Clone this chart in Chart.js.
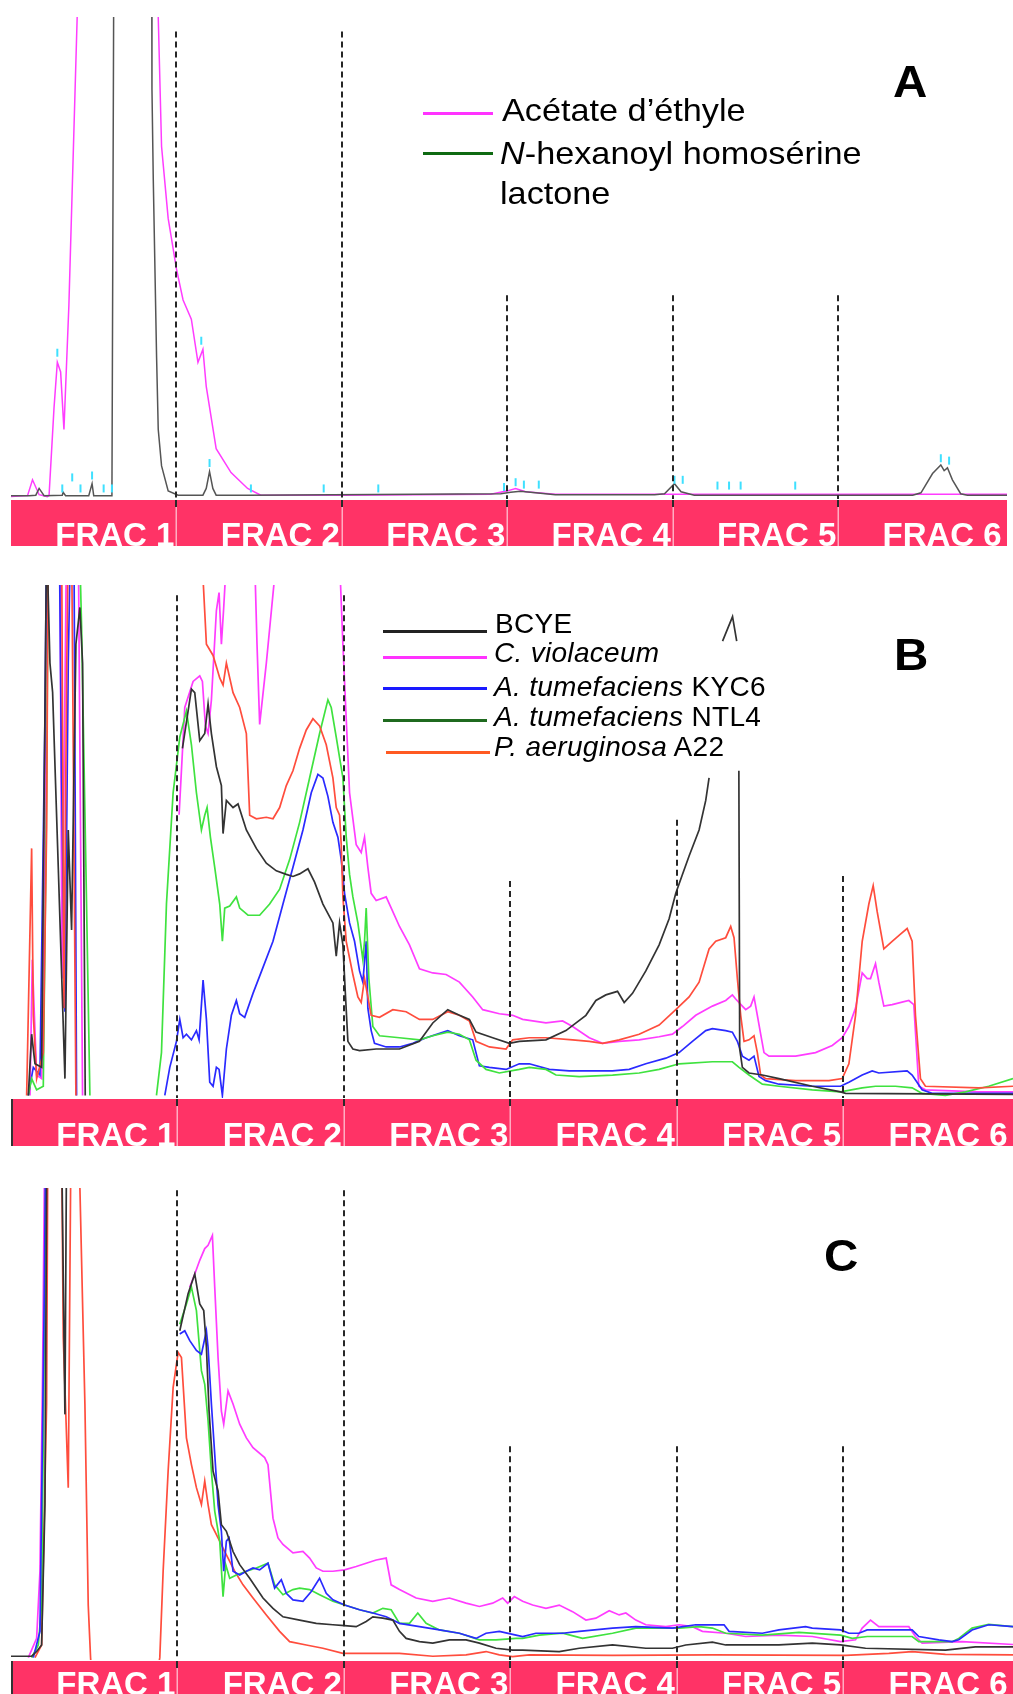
<!DOCTYPE html>
<html>
<head>
<meta charset="utf-8">
<script src="https://cdn.jsdelivr.net/npm/chart.js@4.4.1/dist/chart.umd.min.js"></script>
<style>
  html, body { margin: 0; padding: 0; background: #fff; }
  #wrap { position: relative; width: 1013px; height: 1694px; overflow: hidden; background: #fff; }
  canvas { position: absolute; left: 0; }
  .txt { position: absolute; white-space: nowrap; line-height: 1; color: #000;
         font-family: "Liberation Sans", Arial, Helvetica, sans-serif; transform-origin: left top; }
  .lgA { font-size: 32px; transform: scaleX(1.07); }
  .lgB { font-size: 28px; letter-spacing: 0.3px; }
  .letter { font-size: 44px; font-weight: bold; transform: scaleX(1.08); }
  .sw { position: absolute; height: 3px; }
</style>
</head>
<body>
<div id="wrap">
  <canvas id="chartA" width="1013" height="560" style="top:0px"></canvas>
  <canvas id="chartB" width="1013" height="595" style="top:565px"></canvas>
  <canvas id="chartC" width="1013" height="529" style="top:1165px"></canvas>

  <!-- panel A legend -->
  <div class="sw" style="left:423px;top:112px;width:70px;background:#ff33ff"></div>
  <div class="sw" style="left:423px;top:152px;width:70px;background:#0f6a12"></div>
  <div class="txt lgA" style="left:502px;top:94px">Acétate d’éthyle</div>
  <div class="txt lgA" style="left:500px;top:137px"><i>N</i>-hexanoyl homosérine</div>
  <div class="txt lgA" style="left:500px;top:177px">lactone</div>
  <div class="txt letter" style="left:893px;top:60px">A</div>

  <!-- panel B legend -->
  <div class="sw" style="left:383px;top:630px;width:104px;background:#222"></div>
  <div class="sw" style="left:383px;top:656px;width:104px;background:#ff33ff"></div>
  <div class="sw" style="left:383px;top:687px;width:104px;background:#1a1aff"></div>
  <div class="sw" style="left:383px;top:719px;width:104px;background:#1f6a1f"></div>
  <div class="sw" style="left:386px;top:751px;width:104px;background:#ff5a22"></div>
  <div class="txt lgB" style="left:495px;top:610px">BCYE</div>
  <div class="txt lgB" style="left:494px;top:639px"><i>C. violaceum</i></div>
  <div class="txt lgB" style="left:494px;top:673px"><i>A. tumefaciens</i> KYC6</div>
  <div class="txt lgB" style="left:494px;top:703px"><i>A. tumefaciens</i> NTL4</div>
  <div class="txt lgB" style="left:494px;top:733px"><i>P. aeruginosa</i> A22</div>
  <div class="txt letter" style="left:894px;top:633px">B</div>

  <div class="txt letter" style="left:824px;top:1234px">C</div>
</div>

<script>
// fractions along the elution axis (each fraction = 100 units)
const fractionEdges = [0, 100, 200, 300, 400, 500, 600];
const fractionLabels = ['FRAC 1', 'FRAC 2', 'FRAC 3', 'FRAC 4', 'FRAC 5', 'FRAC 6'];

// height (in % of panel) where each fraction separator starts
const dashTopsA = [97, 97, 42, 42, 42];
const dashTopsB = [98, 98, 42, 54, 43];
const dashTopsC = [99.5, 99.5, 45, 45, 45];

// ---------- Panel A ----------
const aAcetate = [[0,0],[10,0.2],[13,3.5],[17,0.4],[22,0],[23,0.2],[26,18.5],[28,28],[30,26],[32,14],[35,40],[40,100],[44,160],
  [86,160],[89,100],[91,73],[95,58],[100,47.5],[104,41],[109,37],[113,28],[116,30.7],[118,23],[124,10],[133,5],[143,1.7],
  [151,0.3],[200,0.3],[290,0.5],[300,1.2],[305,1.7],[311,1],[329,0.5],[400,0.5],[602,0.5]];
const aHexanoyl = [[0,0.2],[11,0.2],[15,0.3],[17,1.7],[20,0.2],[31,0.3],[31.5,0.9],[33,0.2],[47,0.2],[49,2.7],[50,0.2],[61,0.2],
  [62,97],[62.5,160],[84.8,160],[85.2,85],[86,66],[88,29],[89,14],[91,6.4],[95,1.2],[101,0.3],[116,0.3],[118,1.7],[120,5.2],
  [122,1.7],[124,0.3],[143,0.3],[296,0.6],[302,0.9],[308,1.1],[317,0.8],[329,0.4],[389,0.4],[395,0.6],[401,2.7],[405,1],
  [413,0.3],[545,0.3],[550,0.8],[557,4.8],[562,6.6],[564,5.4],[566,6],[569,3.5],[574,0.6],[578,0.3],[602,0.3]];
const aMarkers = [[28,30],[31,1.7],[37,4],[42,1.7],[49,4.4],[56,1.7],[61,1.7],[115,32.5],[120,7],[145,1.7],[189,1.7],[222,1.7],
  [298,2],[305,3],[310,2.5],[319,2.5],[401,3.5],[406,3.5],[427,2.3],[434,2.3],[441,2.3],[474,2.3],[562,8],[567,7.5]];

// ---------- Panel B ----------
const bBCYE = [[10.4,0],[12.4,12],[14.4,6.2],[18.4,5.5],[21.4,110],[23.4,84.7],[25,79],[28.4,44.7],[32.4,3.3],[34.4,52],[36.4,32.4],
  [39,88.4],[41.4,95.6],[43,84.7],[44.6,0],[46,null],
  [103,68],[108.4,79.6],[110.4,78.9],[113.4,69.5],[116.4,70.9],[118.4,76.7],[120.4,70.9],[123.4,64.4],[126.4,60.7],[127.4,51.3],
  [129.4,57.8],[133.4,56.4],[136.4,57.1],[141.4,52],[147.4,48.4],[153.4,45.5],[159.4,44],[165.4,43.3],[169.4,42.9],[173.4,43.4],
  [178.4,44.4],[182.4,41.8],[187.4,37.5],[193.4,33.8],[195.4,27.3],[197.4,33.8],[199.4,29.5],[201,19.3],[202.4,10.6],[205.4,9.1],
  [209.4,8.8],[219.4,9.1],[233.4,9.1],[245.4,10.6],[253.4,14.2],[262.4,16.8],[269.4,15.7],[275.4,14.9],[279.4,12.4],[289.4,11.3],
  [299.4,10.2],[305.4,10.6],[321.4,10.9],[333.4,12.7],[345.4,15.7],[351.4,18.6],[357.4,19.7],[364.4,20.4],[368.4,18.2],[373.4,20],
  [381.4,24.4],[389.4,29.5],[395.4,34.6],[399.4,39.6],[403.4,43.3],[407.4,46.9],[413.4,52],[417.4,57.8],[419.4,62.2],[420,null],
  [427.5,89],[433.5,93.8],[436,89],[436.5,null],
  [437.3,63.6],[437.8,9.1],[439.4,5.5],[443.4,4.4],[451.4,4],[461.4,3.3],[481.4,1.8],[498.4,0.7],[501.4,0.4],[602,0.2]];
const bViolaceum = [[11.4,0],[12.8,26.6],[15.4,4],[18.4,3.3],[20.4,52],[21.8,110],[29.4,110],[30.6,22.9],[33.4,110],[40.4,110],[43,0],[44,null],
  [101,55],[104.4,76],[109.4,81.1],[113.4,82.2],[115,81.1],[116.8,72.4],[118.4,70.9],[120.4,77.5],[123.4,95],[125,98.5],[126.4,88.4],
  [127.8,95.6],[129.4,105],[146.4,105],[147.8,88.4],[149.4,72.7],[153.4,84.7],[159.4,105],[197.4,105],[199.4,88.4],[201.4,73.8],
  [203.4,59.3],[207.4,49.1],[210.4,47.6],[212.4,50.6],[214.4,44.7],[216.4,39.6],[219.4,38.2],[225.4,38.9],[229.4,36],[233.4,33.1],
  [239.4,29.5],[245.4,24.8],[253.4,24],[261.4,23.7],[269.4,22.2],[277.4,19.3],[283.4,16.8],[293.4,16],[301.4,15.7],[307.4,14.9],
  [313.4,14.6],[321.4,14.2],[331.4,14.6],[337.4,13.5],[347.4,11.3],[355.4,10.2],[365.4,10.6],[377.4,10.9],[389.4,11.5],[397.4,12],
  [403.4,13.5],[411.4,15.7],[421.4,17.5],[429.4,18.6],[433.4,19.7],[435.4,18.9],[439.4,17.5],[441.4,16.8],[444.4,17.5],[446.4,19.3],
  [448.4,15.7],[450.4,12],[452.4,8.4],[455.4,7.7],[471.4,7.7],[483.4,8.4],[493.4,9.8],[499.4,11.3],[503.4,13.5],[507.4,17.1],
  [511.4,24],[514.4,22.9],[516.4,22.9],[519.4,25.8],[521.4,22.2],[524.4,17.5],[529.4,17.8],[539.4,18.6],[542.4,17.8],[545.4,1.8],
  [549.4,1.1],[581.4,0.7],[602,0.7]];
const bKYC6 = [[10.4,0],[13.4,5.5],[17.4,4],[20.4,73.8],[21.4,110],[29,110],[30.4,62.2],[32.4,16.4],[34.4,84.7],[35.8,110],[37.8,110],
  [39.4,0],[40,null],
  [92.4,0],[95.4,5.5],[99.4,10.6],[101.4,14.9],[103.4,11.3],[105.4,12],[108.4,10.9],[111.4,12.7],[113,10.9],[115.4,22.6],[117.4,14.9],
  [119.4,2.6],[121.4,1.8],[123.4,5.5],[125,5.1],[127,0],[129.4,9.1],[132.4,15.7],[135.4,18.6],[137.4,16],[140.4,15.3],[145.4,20],
  [151.4,25.1],[157.4,30.2],[163.4,37.5],[169.4,44.7],[175.4,52],[180.4,59.3],[184.4,62.9],[187.4,62.2],[190.4,58.6],[193.4,53.5],
  [196.4,50.6],[198.4,46.2],[200.4,39.6],[203.4,33.8],[206.4,30.2],[209.4,24.4],[211.4,22.2],[213.4,30.2],[214.4,17.1],[216.4,12.7],
  [218.4,10.2],[225.4,9.5],[233.4,9.5],[241.4,10.2],[249.4,11.3],[262.4,12.7],[269.4,11.7],[277.4,10.9],[281.4,5.8],[287.4,5.5],
  [297.4,5.1],[305.4,6.2],[311.4,6.2],[323.4,5.1],[335.4,4.8],[361.4,4.8],[371.4,5.1],[381.4,6.2],[393.4,7.3],[401.4,8.4],
  [409.4,10.6],[417.4,12.7],[421.4,13.1],[429.4,12.7],[433.4,12.4],[436.4,10.6],[439.4,7.7],[443.4,6.9],[446.4,7.7],[449.4,3.7],
  [453.4,2.9],[461.4,2.2],[481.4,1.8],[498.4,1.8],[503.4,2.6],[511.4,4],[517.4,4.8],[521.4,4.4],[538.4,4.8],[541.4,4],[547.4,1.1],
  [553.4,0.4],[602,0.4]];
const bNTL4 = [[10.4,0],[12.4,3.3],[15.4,1.1],[19.4,1.8],[21.4,59.3],[22.4,110],[41,110],[42.4,92],[45,44.7],[47.4,0],[48,null],
  [87.4,0],[90.4,8.4],[93.4,37.5],[97.4,59.3],[101.4,70.2],[105.4,75.3],[108.4,68.7],[111.4,59.3],[114.4,52],[116.4,54.9],[117.8,56.4],
  [119.8,50.6],[122.4,44.7],[125.4,37.5],[127,30.2],[128.4,36.7],[131.4,37.1],[135.4,38.9],[137.4,36.7],[142.4,35.3],[149.4,35.3],
  [155.4,37.5],[161.4,40.4],[167.4,46.2],[173.4,53.5],[179.4,62.2],[185.4,70.9],[190.4,77.5],[192.4,76],[195.4,70.2],[199.4,62.2],
  [201.4,50.6],[203.4,43.3],[205.4,38.9],[208.4,33.8],[211.4,26.6],[212.4,30.2],[213.4,36.7],[215,22.9],[217.4,13.5],[221.4,11.7],
  [233.4,11.3],[245.4,10.9],[253.4,11.7],[262.4,12.4],[269.4,12],[275.4,10.9],[279.4,6.9],[285.4,5.1],[293.4,4.4],[305.4,5.1],
  [311.4,5.5],[321.4,5.1],[327.4,4],[341.4,3.7],[361.4,4],[377.4,4.4],[389.4,5.1],[401.4,6.2],[421.4,6.6],[433.4,6.6],[437.4,5.5],
  [443.4,4],[451.4,2.2],[461.4,1.8],[481.4,1.1],[498.4,0.7],[511.4,1.5],[519.4,1.8],[531.4,1.8],[541.4,1.5],[547.4,0.4],[561.4,0],
  [573.4,0.7],[587.4,1.8],[602,3.3]];
const bA22 = [[9.4,0],[12.4,48.4],[13.4,15.7],[15.4,3.3],[19.4,8.4],[21.4,52],[22.4,110],[30.4,110],[31.8,17.1],[33.4,81],[34.4,110],
  [36.4,110],[39,0],[40,null],
  [114,110],[117.4,88.4],[121.4,86.2],[125.4,81.8],[127.4,80.4],[129.4,84.7],[133.4,78.9],[137.4,76],[141.4,70.9],[143.4,54.9],
  [147.4,54.2],[153.4,54.5],[157.4,54.2],[161.4,56.4],[165.4,60.7],[169.4,63.6],[173.4,68],[177.4,71.6],[181.4,73.8],[185.4,72.4],
  [189.4,68.7],[193.4,62.2],[195.4,56.4],[197.4,54.9],[198.4,49.1],[199.4,38.9],[201.4,30.2],[205.4,23.7],[208.4,19.3],[210.4,18.2],
  [212.4,22.9],[214.4,19.3],[216.4,15.7],[221.4,15.3],[229.4,16.8],[237.4,16.4],[245.4,14.9],[253.4,14.9],[262.4,16.4],[269.4,15.7],
  [275.4,14.6],[279.4,10.6],[287.4,9.5],[297.4,9.1],[301.4,10.9],[311.4,11.3],[321.4,11.3],[337.4,10.9],[347.4,10.6],[355.4,10.2],
  [365.4,10.9],[377.4,12],[389.4,13.8],[399.4,16.8],[407.4,19.3],[413.4,22.2],[419.4,28.7],[423.4,30.2],[429.4,30.9],[432.4,33.1],
  [434.4,30.9],[436.4,22.9],[438.4,15.7],[440.4,10.6],[443.4,10.9],[446.4,11.7],[448.4,8.4],[450.4,4],[453.4,3.3],[471.4,2.9],
  [491.4,2.9],[499.4,3.3],[503.4,6.2],[507.4,15.7],[511.4,30.2],[515.4,37.5],[518,41.1],[520.4,36],[524.4,28.7],[529.4,30.2],
  [534.4,31.6],[538.4,32.7],[541.4,30.2],[543.4,15.7],[546.4,3.3],[549.4,1.8],[581.4,1.5],[602,1.8]];

// ---------- Panel C ----------
const cBCYE = [[0,0.3],[12.4,0.3],[15.4,1.3],[18.4,2.7],[20.4,32.6],[21.4,100],[22,110],[30.4,110],[32.4,51.8],[33.4,110],[34,null],
  [101.4,69.6],[106.4,77.5],[110.4,81.7],[113.4,75.3],[115.8,73.9],[117.4,66.1],[119,52.5],[121.4,39.7],[124.4,35.5],[126.4,28.3],
  [129.4,26.9],[131.4,24.8],[133.4,22.6],[137.4,19.8],[143.4,16.9],[151.4,12.7],[157.4,10.5],[163.4,8.7],[173.4,8],[183.4,7.3],
  [193.4,7],[200.4,6.8],[207.4,6.6],[213.4,7.7],[217.4,8.7],[223.4,8.4],[229.4,8],[233.4,5.6],[237.4,4.1],[245.4,3.4],[253.4,3.1],
  [263.4,3.8],[273.4,3.8],[281.4,3.1],[291.4,2],[301.4,1.6],[307.4,1.6],[329.4,1.3],[341.4,2],[361.4,2.7],[381.4,2],[397.4,2],
  [405.4,2.7],[421.4,3.3],[429.4,2.7],[461.4,2.7],[481.4,3.1],[498.4,2.7],[513.4,2],[561.4,1.6],[579.4,2.3],[602,2.3]];
const cViolaceum = [[10.4,0],[15.4,4.1],[17.4,18.4],[19,61.1],[20,100],[20.4,110],[33.4,110],[34,null],
  [107.4,78.9],[110.4,81.7],[113.4,84.6],[116.4,87.1],[118.4,87.8],[121,89.9],[122.4,78.9],[124.4,63.9],[126.4,52.5],[127.8,49.7],
  [130.4,56.8],[133.4,54],[137.4,49.7],[141.4,46.8],[145.4,44.7],[152.4,42.6],[154.4,41.1],[157.4,29.7],[160.4,25.5],[163.4,24.1],
  [169.4,22.3],[175.4,22.6],[179.4,21.2],[183.4,19.1],[187.4,18.4],[193.4,18.4],[200.4,18.7],[207.4,19.4],[213.4,20.1],[219.4,20.8],
  [225.4,21.2],[228.4,15.5],[233.4,14.5],[243.4,12.7],[253.4,12],[263.4,12.7],[273.4,11.6],[281.4,10.9],[289.4,11.6],[295.4,12.7],
  [298.4,11.6],[302.4,13],[307.4,12],[313.4,11.2],[321.4,10.5],[329.4,11.2],[337.4,9.8],[345.4,8],[351.4,8.4],[359.4,10],
  [365.4,9.1],[369.4,9.5],[375.4,8],[381.4,7],[393.4,6.6],[401.4,7],[409.4,6.6],[415.4,5.6],[429.4,5.2],[441.4,4.5],[461.4,4.8],
  [481.4,4.5],[498.4,3.4],[507.4,3.8],[511.4,6.3],[516.4,8],[521.4,6.6],[539.4,6.6],[543.4,4.5],[547.4,3.1],[571.4,3.4],[602,2.8]];
const cKYC6 = [[13.4,0],[17.4,5.6],[20,77.5],[20.6,100],[21.4,110],[30,110],[30.5,null],
  [101.4,68.9],[104.4,69.6],[107.4,67.5],[111.4,65.4],[114.4,64.6],[117.4,69.6],[118.4,66.1],[120.4,54],[122.4,43.3],[124.4,32.6],
  [126.4,26.9],[127.8,18.4],[129.4,24.8],[131,25.5],[133.4,18.4],[137.4,17.6],[141.4,18.4],[145.4,19.1],[149.4,18.7],[154.4,20.1],
  [158.4,14.8],[162.4,16.6],[165.4,13.7],[169.4,12.3],[175.4,12],[180.4,14.1],[185.4,16.9],[189.4,13.7],[193.4,12.3],[200.4,11.2],
  [209.4,10.2],[217.4,9.5],[225.4,8.7],[233.4,7.3],[245.4,6.6],[257.4,5.9],[269.4,5.2],[279.4,4.1],[285.4,5.2],[293.4,5.6],
  [303.4,4.8],[307.4,4.5],[315.4,5.2],[331.4,5.2],[341.4,5.6],[361.4,6.3],[375.4,6.6],[397.4,6.3],[411.4,7],[428.4,7],[431.4,5.6],
  [451.4,5.2],[461.4,5.9],[477.4,6.6],[481.4,6.3],[498.4,5.9],[503.4,5.2],[509.4,5.2],[514.4,5.9],[541.4,5.9],[545.4,4.5],
  [557.4,3.8],[565.4,3.4],[569.4,3.8],[577.4,5.9],[587.4,7],[602,6.6]];
const cNTL4 = [[12.4,0],[16.4,2.7],[18.4,11.2],[20,68.2],[20.8,100],[21.4,110],[30,110],[30.5,null],
  [101.4,71],[105.4,75.3],[108.4,78.9],[111.4,73.9],[114.4,61.1],[116.4,58.2],[118.4,50.4],[120.4,39.7],[122.4,31.2],[125.4,24.8],
  [127.4,13],[129,19.8],[131.4,16.9],[135.4,17.6],[141.4,18.4],[147.4,19.1],[154.4,20.1],[158.4,15.5],[163.4,13.4],[169.4,14.5],
  [173.4,14.8],[179.4,14.5],[185.4,13.4],[193.4,12],[200.4,11.2],[209.4,10.2],[217.4,9.5],[223.4,10.5],[228.4,10.2],[233.4,7.3],
  [239.4,7.3],[244.4,9.5],[249.4,7.3],[257.4,5.9],[269.4,5.2],[281.4,3.8],[291.4,3.8],[303.4,4.1],[307.4,4.1],[317.4,4.8],
  [331.4,5.2],[343.4,4.1],[361.4,5.2],[375.4,6.3],[401.4,6.3],[413.4,6.6],[421.4,6.3],[429.4,5.2],[451.4,4.8],[473.4,5.4],
  [498.4,4.8],[505.4,4.1],[514.4,4.5],[541.4,4.5],[545.4,3.4],[565.4,3.4],[569.4,4.1],[577.4,6.3],[587.4,7.1],[602,6.6]];
const cA22 = [[14.4,0],[18.4,2.7],[21.4,54],[22,100],[22.4,110],[30.4,110],[31.4,68.2],[34.4,36.2],[35.8,100],[36.2,110],[40.4,110],
  [41.4,100],[44.4,54],[46.4,11.2],[47.8,0],[48.4,-3],[49,null],
  [88,-3],[89.4,0],[91.4,18.4],[94.4,39.7],[97.4,57.5],[100.4,65],[102.4,63.9],[105.4,46.8],[108.4,41.1],[111.4,36.2],[114.4,32.6],
  [116.4,37.6],[118.4,32.6],[120.4,28.3],[124.4,25.5],[128.4,22.6],[131.4,20.5],[134.4,18.4],[139.4,15.5],[145.4,12.7],[153.4,9.1],
  [161.4,5.6],[167.4,3.4],[177.4,2.7],[187.4,2],[199.4,0.9],[213.4,0.9],[233.4,0.9],[253.4,0.3],[273.4,0.6],[285.4,1.3],[293.4,0.6],
  [301.4,0.2],[311.4,0.6],[361.4,0.5],[421.4,0.6],[501.4,0.5],[527.4,0.9],[541.4,1.3],[561.4,0.7],[602,0.6]];

const MAGENTA = '#ff3cff', BLUE = '#2a2aff', GREEN = '#3fe23f', RED = '#ff4d3d', BLACK = '#333333';

// dashed fraction separators over the traces
const dashPlugin = {
  id: 'fracDash',
  afterDatasetsDraw(chart, args, opts) {
    const { ctx, chartArea, scales: { x, y } } = chart;
    ctx.save();
    ctx.strokeStyle = '#262626';
    ctx.lineWidth = 2;
    ctx.setLineDash([6, 4]);
    fractionEdges.slice(1, 6).forEach((v, i) => {
      const px = Math.round(x.getPixelForValue(v));
      ctx.beginPath();
      ctx.moveTo(px, y.getPixelForValue(opts.tops[i]));
      ctx.lineTo(px, chartArea.bottom);
      ctx.stroke();
    });
    ctx.restore();
  }
};

// pink fraction strip under the plot, with its labels
const bandPlugin = {
  id: 'fracBand',
  afterDraw(chart, args, opts) {
    const { ctx, chartArea, scales: { x } } = chart;
    const top = chartArea.bottom + 1;
    const bottom = top + opts.height;
    const left = x.getPixelForValue(fractionEdges[0]);
    const right = chartArea.right;
    ctx.save();
    ctx.beginPath();
    ctx.rect(left, top, right - left, bottom - top);
    ctx.clip();
    ctx.fillStyle = '#ff3366';
    ctx.fillRect(left, top, right - left, bottom - top);
    fractionEdges.slice(1, 6).forEach(v => {
      const px = Math.round(x.getPixelForValue(v));
      ctx.fillStyle = 'rgba(255,255,255,0.6)';
      ctx.fillRect(px - 0.5, top, 1.5, bottom - top);
      ctx.fillStyle = '#2a2a2a';
      ctx.fillRect(px - 1, top, 2, 7);
    });
    if (opts.leftEdge) {
      ctx.fillStyle = '#333';
      ctx.fillRect(left, top, 2, bottom - top);
    }
    ctx.font = 'bold 33px "Liberation Sans", Arial, sans-serif';
    ctx.fillStyle = '#ffffff';
    ctx.textAlign = 'right';
    ctx.textBaseline = 'alphabetic';
    fractionLabels.forEach((t, i) => {
      ctx.fillText(t, x.getPixelForValue(fractionEdges[i + 1]) - 2, bottom);
    });
    ctx.restore();
  }
};

function lineSet(label, pts, color, width) {
  return {
    label,
    data: pts.map(p => ({ x: p[0], y: p[1] })),
    borderColor: color,
    borderWidth: width || 1.7,
    pointRadius: 0,
    tension: 0,
    clip: 0,
    spanGaps: false
  };
}

function makePanel(id, datasets, pad, bandH, dashTops, leftEdge) {
  return new Chart(document.getElementById(id), {
    type: 'line',
    data: { datasets },
    options: {
      responsive: false,
      animation: false,
      devicePixelRatio: 1,
      layout: { padding: pad },
      plugins: {
        legend: { display: false },
        tooltip: { enabled: false },
        fracDash: { tops: dashTops },
        fracBand: { height: bandH, leftEdge }
      },
      scales: {
        x: {
          type: 'linear', min: 0, max: 602,
          ticks: { display: false },
          grid: { display: false },
          border: { display: false },
          afterFit: s => { s.height = bandH; }
        },
        y: { min: -0.5, max: 100, display: false }
      }
    },
    plugins: [dashPlugin, bandPlugin]
  });
}

const markerSet = {
  label: 'pics',
  data: aMarkers.map(p => ({ x: p[0], y: p[1] })),
  showLine: false,
  pointStyle: 'line',
  pointRotation: 90,
  pointRadius: 4,
  pointBorderWidth: 2,
  pointBorderColor: '#3fe0ff',
  borderColor: '#3fe0ff',
  clip: 0
};

makePanel('chartA', [
  markerSet,
  lineSet('N-hexanoyl homosérine lactone', aHexanoyl, '#555555', 1.5),
  lineSet('Acétate d’éthyle', aAcetate, MAGENTA, 1.5)
], { left: 11, right: 0, top: 17, bottom: 15 }, 46, dashTopsA, false);

makePanel('chartB', [
  lineSet('BCYE', bBCYE, BLACK),
  lineSet('P. aeruginosa A22', bA22, RED),
  lineSet('A. tumefaciens NTL4', bNTL4, GREEN),
  lineSet('A. tumefaciens KYC6', bKYC6, BLUE),
  lineSet('C. violaceum', bViolaceum, MAGENTA)
], { left: 11, right: 0, top: 20, bottom: 15 }, 47, dashTopsB, true);

makePanel('chartC', [
  lineSet('BCYE', cBCYE, BLACK),
  lineSet('A. tumefaciens KYC6', cKYC6, BLUE),
  lineSet('A. tumefaciens NTL4', cNTL4, GREEN),
  lineSet('P. aeruginosa A22', cA22, RED),
  lineSet('C. violaceum', cViolaceum, MAGENTA)
], { left: 11, right: 0, top: 23, bottom: 0 }, 34, dashTopsC, true);
</script>
</body>
</html>
